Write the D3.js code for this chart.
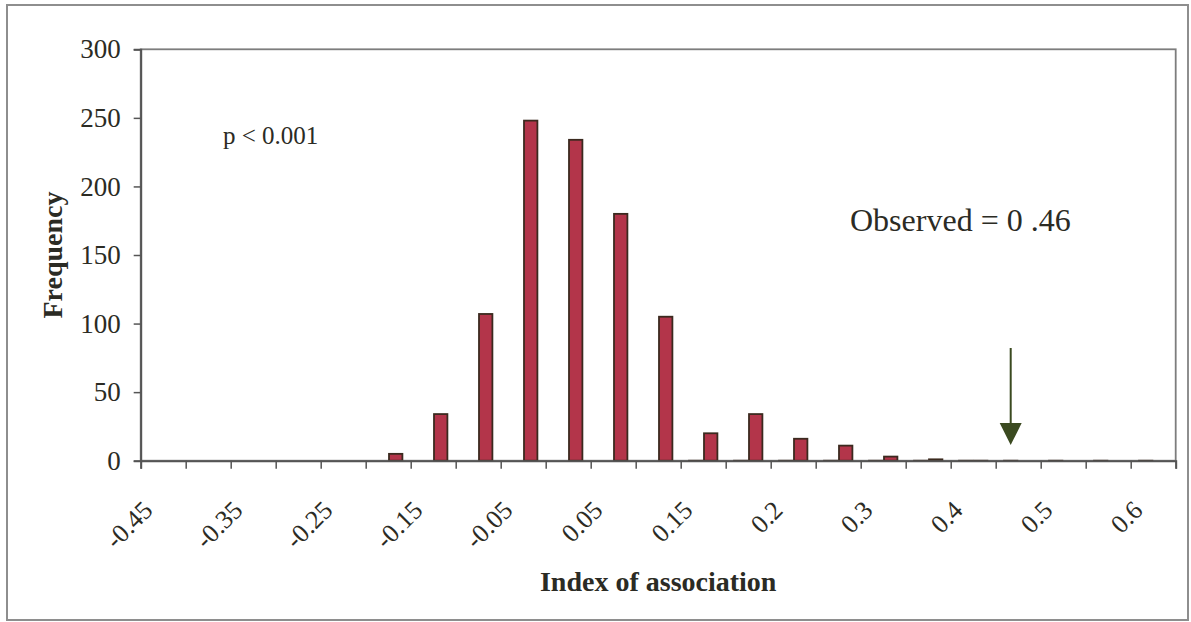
<!DOCTYPE html>
<html>
<head>
<meta charset="utf-8">
<script src="https://cdn.jsdelivr.net/npm/d3@7/dist/d3.min.js"></script>
<style>
  html, body { margin: 0; padding: 0; background: #ffffff; }
  svg { display: block; }
  text { font-family: "Liberation Serif", "Times New Roman", serif; fill: #2b2b24; }
</style>
</head>
<body>
<svg id="chart" width="1191" height="622"></svg>
<script>
// Permutation distribution of the index of association (23 bins).
const binCount = 23;
// Labels shown on every other bin, starting with the first.
const tickLabels = ["-0.45", "-0.35", "-0.25", "-0.15", "-0.05", "0.05",
                    "0.15", "0.2", "0.3", "0.4", "0.5", "0.6"];
// Frequency of randomised data sets per bin (null = no bar).
const frequency = [null, null, null, null, null, 5, 34, 107, 248, 234, 180, 105,
                   20, 34, 16, 11, 3, 1, 0, null, null, null, null];
// Observed-data series (empty bars along the baseline).
const observedSeries = [null, null, null, null, null, null, null, null, null, null, null, null,
                        0, 0, 0, 0, 0, 0, 0, 0, 0, 0, 0];
const yTicks = [0, 50, 100, 150, 200, 250, 300];
const observedBin = 19;
const observedText = "Observed = 0 .46";
const pText = "p < 0.001";

const svg = d3.select("#chart");
const plotLeft = 140.7, plotRight = 1175.7, plotTop = 49.3, plotBottom = 460.7;

const x = d3.scaleBand().domain(d3.range(binCount)).range([plotLeft, plotRight]).padding(0);
const xEdge = d3.scaleLinear().domain([0, binCount]).range([plotLeft, plotRight]);
const sub = d3.scaleBand().domain(["observed", "frequency"])
  .range([0, x.bandwidth()]).paddingInner(0).paddingOuter(0.5);
const y = d3.scaleLinear().domain([0, 300]).range([plotBottom, plotTop]);

// outer frame
svg.append("rect")
  .attr("x", 7).attr("y", 5).attr("width", 1181).attr("height", 615)
  .attr("fill", "none").attr("stroke", "#8e8e8e").attr("stroke-width", 2);

// plot area border
svg.append("rect")
  .attr("x", plotLeft).attr("y", plotTop)
  .attr("width", plotRight - plotLeft).attr("height", plotBottom - plotTop)
  .attr("fill", "#ffffff").attr("stroke", "#7d7d7d").attr("stroke-width", 1.8);

// bars
function drawSeries(values, key, fill) {
  const bw = sub.bandwidth();
  svg.append("g").selectAll("rect")
    .data(values.map((v, i) => ({ v, i })).filter(d => d.v !== null))
    .join("rect")
    .attr("x", d => x(d.i) + sub(key) + 0.8)
    .attr("width", bw - 1.6)
    .attr("y", d => y(d.v))
    .attr("height", d => Math.max(y(0) - y(d.v), 0.4))
    .attr("fill", fill)
    .attr("stroke", "#3b2a1f")
    .attr("stroke-width", 1.8);
}
drawSeries(observedSeries, "observed", "#b3354a");
drawSeries(frequency, "frequency", "#b3354a");

// y axis
const yAxis = svg.append("g")
  .attr("transform", `translate(${plotLeft},0)`)
  .call(d3.axisLeft(y).tickValues(yTicks).tickSize(7).tickPadding(13));
yAxis.select(".domain").attr("stroke", "#555555").attr("stroke-width", 2);
yAxis.selectAll(".tick line").attr("stroke", "#555555").attr("stroke-width", 1.5);
yAxis.selectAll(".tick text")
  .attr("font-family", "Liberation Serif").attr("font-size", 27).attr("fill", "#2b2b24");

// x axis: tick marks on bin edges
const xTickAxis = svg.append("g")
  .attr("transform", `translate(0,${plotBottom})`)
  .call(d3.axisBottom(xEdge).tickValues(d3.range(binCount + 1)).tickSize(8).tickFormat(""));
xTickAxis.select(".domain").attr("stroke", "#555555").attr("stroke-width", 2);
xTickAxis.selectAll(".tick line").attr("stroke", "#555555").attr("stroke-width", 1.5);

// x axis labels at every other bin centre, rotated
const labelled = d3.range(0, binCount, 2);
const xLabelAxis = svg.append("g")
  .attr("transform", `translate(0,${plotBottom})`)
  .call(d3.axisBottom(x).tickValues(labelled).tickSize(0)
    .tickFormat(d => tickLabels[labelled.indexOf(d)]));
xLabelAxis.select(".domain").remove();
xLabelAxis.selectAll(".tick text")
  .attr("font-family", "Liberation Serif").attr("font-size", 26).attr("fill", "#2b2b24")
  .attr("text-anchor", "end")
  .attr("dy", null).attr("y", null)
  .attr("transform", "translate(-9,51) rotate(-45)");

// axis titles
svg.append("text")
  .attr("x", (plotLeft + plotRight) / 2).attr("y", 591)
  .attr("text-anchor", "middle")
  .attr("font-size", 28).attr("font-weight", "bold").attr("fill", "#33352a")
  .text("Index of association");

svg.append("text")
  .attr("transform", `translate(62,${(plotTop + plotBottom) / 2}) rotate(-90)`)
  .attr("text-anchor", "middle")
  .attr("font-size", 28).attr("font-weight", "bold").attr("fill", "#33352a")
  .text("Frequency");

// annotations
svg.append("text")
  .attr("x", 223).attr("y", 144)
  .attr("font-size", 25)
  .text(pText);

svg.append("text")
  .attr("x", 850).attr("y", 231)
  .attr("font-size", 32)
  .text(observedText);

// arrow pointing at the observed bin
const ax = x(observedBin) + sub("observed") + sub.bandwidth() / 2;
const arrowColor = "#3b4a20";
svg.append("line")
  .attr("x1", ax).attr("x2", ax).attr("y1", 348).attr("y2", 428)
  .attr("stroke", arrowColor).attr("stroke-width", 2);
svg.append("path")
  .attr("d", `M${ax - 11},423 L${ax + 11},423 L${ax},445 Z`)
  .attr("fill", arrowColor);
</script>
</body>
</html>
